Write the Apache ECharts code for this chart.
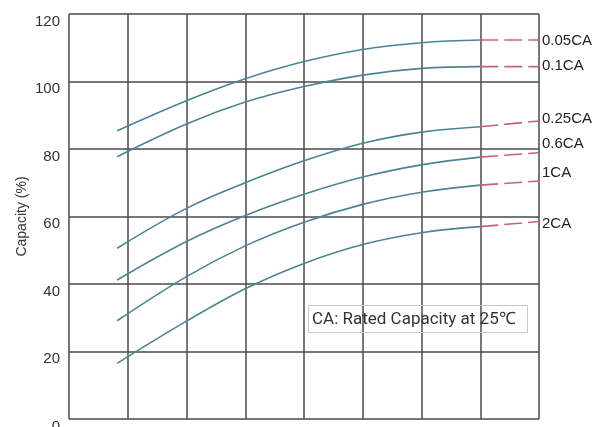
<!DOCTYPE html>
<html><head><meta charset="utf-8">
<script src="https://cdn.jsdelivr.net/npm/echarts@6/dist/echarts.min.js"></script>
<style>html,body{margin:0;padding:0;background:#fff}#c{width:595px;height:427px}</style>
</head><body><div id="c"></div>
<script>
// x positions (grid columns), solid curve values, dashed extension end values
const xs = [0.82, 2, 3, 4, 5, 6, 7];
const dashX = [7, 8];
const names = ['0.05CA', '0.1CA', '0.25CA', '0.6CA', '1CA', '2CA'];
const c005 = [85.4, 94.3, 100.8, 105.9, 109.5, 111.5, 112.3];
const c01  = [77.7, 87.4, 93.9, 98.5, 101.9, 103.9, 104.4];
const c025 = [50.6, 62.4, 70.0, 76.5, 81.7, 85.0, 86.6];
const c06  = [41.2, 52.6, 60.3, 66.6, 71.7, 75.3, 77.6];
const c1   = [29.1, 42.2, 51.3, 58.3, 63.6, 67.2, 69.3];
const c2   = [16.5, 29.0, 38.6, 46.1, 51.7, 55.2, 57.0];
const dashEnd = [112.3, 104.4, 88.3, 78.9, 70.5, 58.5];
const yTicks = [0, 20, 40, 60, 80, 100, 120];
const note = 'CA: Rated Capacity at 25℃';

const curves = [c005, c01, c025, c06, c1, c2];
const labelDy = [1, -1, -2, -9, -8, 2];

const series = [];
curves.forEach((arr, i) => {
  series.push({
    type: 'line', name: names[i], smooth: 0.4, symbol: 'none',
    data: xs.map((x, j) => [x, arr[j]]),
    lineStyle: { color: '#4a8595', width: 1.6 }
  });
  series.push({
    type: 'line', name: names[i] + '_d', symbol: 'none',
    data: [[dashX[0], arr[arr.length - 1]], [dashX[1], dashEnd[i]]],
    lineStyle: { color: '#c8607e', width: 1.6, type: [18, 6] },
    endLabel: {
      show: true, formatter: names[i], distance: 3, offset: [0, labelDy[i]],
      fontFamily: '"Liberation Sans", Arial, sans-serif',
      fontSize: 15, color: '#222'
    }
  });
});

const chart = echarts.init(document.getElementById('c'), null, { renderer: 'canvas' });
chart.setOption({
  animation: false,
  backgroundColor: '#fff',
  title: {
    text: note, left: 308, top: 305,
    padding: [6, 12, 5, 4],
    borderColor: '#c8c8c8', borderWidth: 1,
    textStyle: { fontSize: 17, fontWeight: 'normal', color: '#333', fontFamily: 'Roboto, "Liberation Sans", sans-serif' }
  },
  grid: { left: 69, right: 56, top: 14, bottom: 8, containLabel: false, outerBoundsMode: 'none' },
  xAxis: {
    type: 'value', min: 0, max: 8, interval: 1,
    axisLabel: { show: false }, axisTick: { show: false },
    axisLine: { show: false },
    splitLine: { show: true, lineStyle: { color: '#4a4a4a', width: 1.5 } }
  },
  yAxis: {
    type: 'value', min: 0, max: 120, interval: 20,
    name: 'Capacity (%)', nameLocation: 'middle', nameGap: 40, nameRotate: 90,
    nameMoveOverlap: false,
    nameTextStyle: { fontSize: 14, color: '#333', fontFamily: '"Liberation Sans", Arial, sans-serif' },
    axisLabel: {
      fontSize: 15, color: '#333', margin: 9, verticalAlign: 'top',
      fontFamily: '"Liberation Sans", Arial, sans-serif',
      formatter: v => yTicks.includes(v) ? String(v) : ''
    },
    axisTick: { show: false }, axisLine: { show: false },
    splitLine: { show: true, lineStyle: { color: '#4a4a4a', width: 1.5 } }
  },
  series: series
});
</script></body></html>
